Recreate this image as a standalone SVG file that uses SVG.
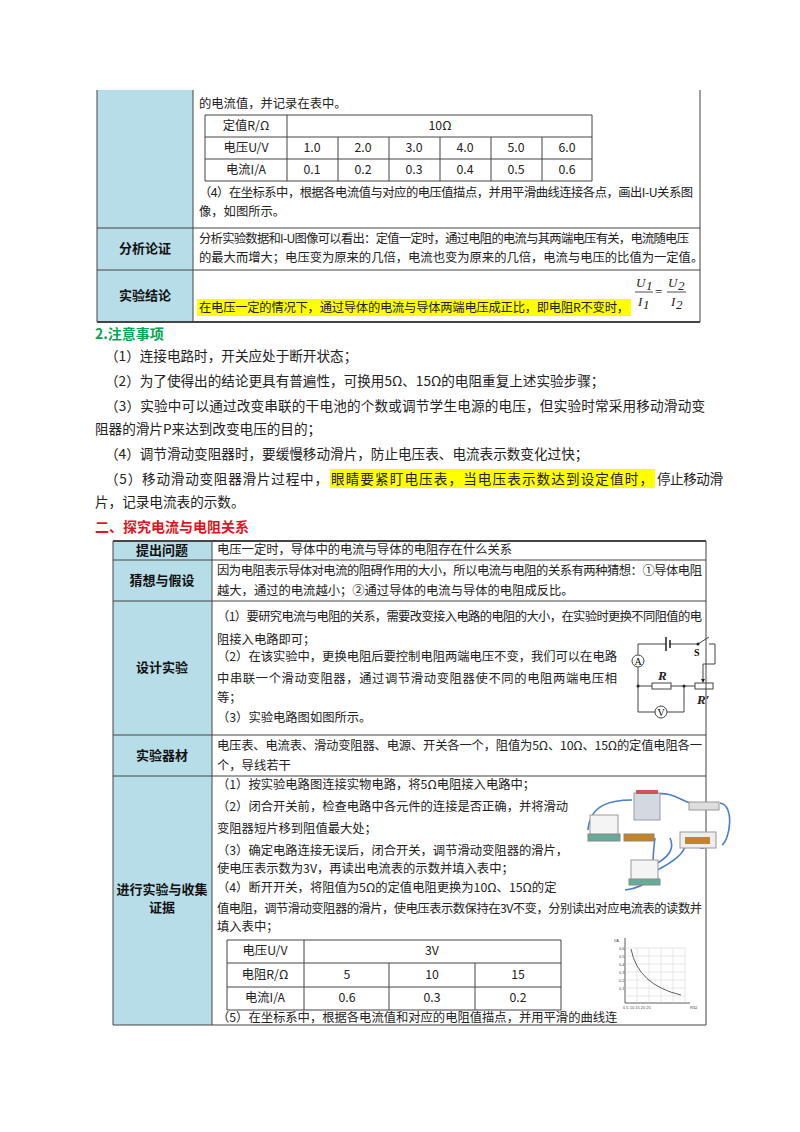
<svg xmlns="http://www.w3.org/2000/svg" width="800" height="1132" viewBox="0 0 800 1132">
<style>
.t{font-family:"Noto Sans CJK SC","Liberation Serif",serif;font-size:12.3px;fill:#222}
.n{font-family:"Noto Sans CJK SC","Liberation Serif",serif;font-size:13.6px;fill:#222}
.c{text-anchor:middle}
.b{font-weight:bold;font-size:13px;fill:#111}
.lab{fill:#b7dde8}
.ln{stroke:#444;stroke-width:1;fill:none}
.thk{stroke:#444;stroke-width:2;fill:none}
.m{font-family:"Liberation Serif",serif;font-style:italic;font-size:13px;fill:#222}
.w{stroke:#4a7fc8;stroke-width:1.6;fill:none}
</style>
<rect width="800" height="1132" fill="#fff"/>
<g id="table1">
<rect class="lab" x="97" y="90" width="96" height="232"/>
<path class="ln" d="M97 90V322M193 90V322M700 90V322M97 228H700M97 270H700"/>
<path class="thk" d="M97 322H700"/>
<text class="t" x="199" y="108">的电流值，并记录在表中。</text>
<g id="inner1">
<path class="ln" d="M205 115H592V181H205ZM205 137H592M205 159H592M287 115V181M338 137V181M389 137V181M440 137V181M491 137V181M542 137V181"/>
<g class="t c">
<text x="246" y="130">定值R/Ω</text><text x="440" y="130">10Ω</text>
<text x="246" y="152">电压U/V</text><text x="312" y="152">1.0</text><text x="363" y="152">2.0</text><text x="414" y="152">3.0</text><text x="465" y="152">4.0</text><text x="516" y="152">5.0</text><text x="567" y="152">6.0</text>
<text x="246" y="174">电流I/A</text><text x="312" y="174">0.1</text><text x="363" y="174">0.2</text><text x="414" y="174">0.3</text><text x="465" y="174">0.4</text><text x="516" y="174">0.5</text><text x="567" y="174">0.6</text>
</g>
</g>
<text class="t" x="199" y="197" textLength="494">（4）在坐标系中，根据各电流值与对应的电压值描点，并用平滑曲线连接各点，画出I-U关系图</text>
<text class="t" x="199" y="216">像，如图所示。</text>
<text class="t b c" x="145" y="253">分析论证</text>
<text class="t" x="199" y="243" textLength="490">分析实验数据和I-U图像可以看出：定值一定时，通过电阻的电流与其两端电压有关，电流随电压</text>
<text class="t" x="199" y="262">的最大而增大；电压变为原来的几倍，电流也变为原来的几倍，电流与电压的比值为一定值。</text>
<text class="t b c" x="145" y="300">实验结论</text>
<rect x="197" y="299" width="434" height="17" fill="#ffff00"/>
<text class="t" x="199" y="312" textLength="430">在电压一定的情况下，通过导体的电流与导体两端电压成正比，即电阻R不变时，</text>
<g id="formula">
<text class="m" x="636" y="287">U</text><text class="m" x="646" y="290" font-size="8">1</text>
<text class="m" x="638" y="306">I</text><text class="m" x="643" y="309" font-size="8">1</text>
<path d="M635 292H653M667 292H686" stroke="#222" stroke-width="0.8"/>
<text class="m" x="655" y="296" style="font-style:normal">=</text>
<text class="m" x="668" y="287">U</text><text class="m" x="678" y="290" font-size="8">2</text>
<text class="m" x="671" y="306">I</text><text class="m" x="676" y="309" font-size="8">2</text>
</g>
</g>
<g id="notes">
<text x="95" y="339" font-family="Noto Sans CJK SC,sans-serif" font-size="14" font-weight="bold" fill="#00a651">2.注意事项</text>
<text class="n" x="105" y="361">（1）连接电路时，开关应处于断开状态；</text>
<text class="n" x="105" y="386">（2）为了使得出的结论更具有普遍性，可换用5Ω、15Ω的电阻重复上述实验步骤；</text>
<text class="n" x="105" y="411" textLength="600">（3）实验中可以通过改变串联的干电池的个数或调节学生电源的电压，但实验时常采用移动滑动变</text>
<text class="n" x="95" y="434">阻器的滑片P来达到改变电压的目的；</text>
<text class="n" x="105" y="459">（4）调节滑动变阻器时，要缓慢移动滑片，防止电压表、电流表示数变化过快；</text>
<rect x="330" y="469" width="325" height="19" fill="#ffff00"/>
<text class="n" y="484"><tspan x="105" textLength="223">（5）移动滑动变阻器滑片过程中，</tspan><tspan x="331" textLength="322">眼睛要紧盯电压表，当电压表示数达到设定值时，</tspan><tspan x="657" textLength="66">停止移动滑</tspan></text>
<text class="n" x="95" y="507">片，记录电流表的示数。</text>
<text x="95" y="532" font-family="Noto Sans CJK SC,sans-serif" font-size="14" font-weight="bold" fill="#e0141e">二、探究电流与电阻关系</text>
</g>
<g id="table2">
<rect class="lab" x="113" y="541" width="99" height="484"/>
<path class="thk" d="M113 541H706"/>
<path class="ln" d="M113 541V1025M212 541V1025M706 541V1025M113 560H706M113 601H706M113 735H706M113 776H706M113 1025H706"/>
<text class="t b c" x="162" y="555">提出问题</text>
<text class="t" x="217" y="554">电压一定时，导体中的电流与导体的电阻存在什么关系</text>
<text class="t b c" x="162" y="585">猜想与假设</text>
<text class="t" x="217" y="575" textLength="485">因为电阻表示导体对电流的阻碍作用的大小，所以电流与电阻的关系有两种猜想：①导体电阻</text>
<text class="t" x="217" y="595">越大，通过的电流越小；②通过导体的电流与导体的电阻成反比。</text>
<text class="t b c" x="162" y="672">设计实验</text>
<text class="t" x="217" y="621" textLength="485">（1）要研究电流与电阻的关系，需要改变接入电路的电阻的大小，在实验时更换不同阻值的电</text>
<text class="t" x="217" y="644">阻接入电路即可；</text>
<text class="t" x="217" y="661" textLength="400">（2）在该实验中，更换电阻后要控制电阻两端电压不变，我们可以在电路</text>
<text class="t" x="217" y="683" textLength="400">中串联一个滑动变阻器，通过调节滑动变阻器使不同的电阻两端电压相</text>
<text class="t" x="217" y="702">等；</text>
<text class="t" x="217" y="722">（3）实验电路图如图所示。</text>
<g id="circuit">
<path class="ln" d="M666 644H638V655M638 667V686H652M671 686H695M638 686V712H655M667 712H684V686"/>
<path class="ln" d="M669 644H698M698 644L709 637M709 644H715V664H703V679"/>
<path d="M666 637V651M670 640V648" stroke="#222" stroke-width="1.5"/>
<circle cx="698" cy="644" r="1.5" fill="#222"/>
<circle cx="638" cy="661" r="6" class="ln"/><text x="638" y="665" font-family="Liberation Serif,serif" font-size="10" text-anchor="middle">A</text>
<circle cx="661" cy="712" r="6" class="ln"/><text x="661" y="716" font-family="Liberation Serif,serif" font-size="10" text-anchor="middle">V</text>
<rect x="652" y="683" width="19" height="6" class="ln"/>
<rect x="695" y="683" width="18" height="6" class="ln"/>
<path d="M701 679L703 683L705 679Z" fill="#222"/>
<circle cx="638" cy="686" r="1.5" fill="#222"/><circle cx="684" cy="686" r="1.5" fill="#222"/>
<text class="m" x="658" y="680" font-weight="bold">R</text>
<text class="m" x="697" y="704" font-weight="bold">R′</text>
<text x="694" y="656" font-family="Liberation Serif,serif" font-size="10" font-weight="bold">S</text>
</g>
<text class="t b c" x="162" y="760">实验器材</text>
<text class="t" x="217" y="750" textLength="485">电压表、电流表、滑动变阻器、电源、开关各一个，阻值为5Ω、10Ω、15Ω的定值电阻各一</text>
<text class="t" x="217" y="770">个，导线若干</text>
<text class="t b c" x="162" y="894">进行实验与收集</text>
<text class="t b c" x="162" y="912">证据</text>
<text class="t" x="217" y="789">（1）按实验电路图连接实物电路，将5Ω电阻接入电路中；</text>
<text class="t" x="217" y="811">（2）闭合开关前，检查电路中各元件的连接是否正确，并将滑动</text>
<text class="t" x="217" y="833">变阻器短片移到阻值最大处；</text>
<text class="t" x="217" y="855">（3）确定电路连接无误后，闭合开关，调节滑动变阻器的滑片，</text>
<text class="t" x="217" y="873">使电压表示数为3V，再读出电流表的示数并填入表中；</text>
<text class="t" x="217" y="892">（4）断开开关，将阻值为5Ω的定值电阻更换为10Ω、15Ω的定</text>
<text class="t" x="217" y="913" textLength="485">值电阻，调节滑动变阻器的滑片，使电压表示数保持在3V不变，分别读出对应电流表的读数并</text>
<text class="t" x="217" y="931">填入表中；</text>
<g id="inner2">
<path class="ln" d="M227 940H561V1010H227ZM227 963H561M227 987H561M304 940V1010M389 963V1010M475 963V1010"/>
<g class="t c">
<text x="265" y="955">电压U/V</text><text x="432" y="955">3V</text>
<text x="265" y="979">电阻R/Ω</text><text x="347" y="979">5</text><text x="432" y="979">10</text><text x="518" y="979">15</text>
<text x="265" y="1002">电流I/A</text><text x="347" y="1002">0.6</text><text x="432" y="1002">0.3</text><text x="518" y="1002">0.2</text>
</g>
</g>
<text class="t" x="217" y="1022">（5）在坐标系中，根据各电流值和对应的电阻值描点，并用平滑的曲线连</text>
<g id="photo">
<path class="w" d="M632 800C610 800 590 805 588 830M652 795C670 790 680 800 690 803M720 803C735 805 730 840 722 845M600 836H620M640 840H655M655 838C650 870 660 885 625 890M670 838C680 860 640 870 640 870M685 840C690 855 660 870 635 880M690 842C700 850 705 850 710 843"/>
<rect x="634" y="793" width="26" height="27" fill="#d4d8e0" stroke="#99a"/>
<rect x="636" y="790" width="22" height="4" fill="#c55"/>
<rect x="689" y="802" width="30" height="8" fill="#ddd" stroke="#999"/>
<rect x="590" y="815" width="28" height="22" fill="#f4f4f4" stroke="#999"/>
<rect x="588" y="834" width="32" height="7" fill="#6a9" stroke="#888"/>
<rect x="624" y="834" width="30" height="7" fill="#c8822a" stroke="#886"/>
<rect x="680" y="832" width="36" height="16" fill="#eee" stroke="#999"/>
<rect x="685" y="837" width="25" height="7" fill="#c8822a"/>
<rect x="631" y="860" width="27" height="20" fill="#f4f4f4" stroke="#999"/>
<rect x="629" y="879" width="31" height="6" fill="#6a9" stroke="#888"/>
</g>
<g id="graph" font-family="Liberation Sans,sans-serif" font-size="4" fill="#444">
<path d="M625 938V1003H690" stroke="#333" stroke-width="0.8" fill="none"/>
<path d="M625 948H685M625 956H685M625 964H685M625 972H685M625 980H685M625 988H685M625 996H685M637 948V1003M649 948V1003M661 948V1003M673 948V1003M685 948V1003" stroke="#ccc" stroke-width="0.5"/>
<path d="M631 949Q638 985 681 995" stroke="#333" stroke-width="0.8" fill="none"/>
<text x="614" y="942">I/A</text>
<text x="619" y="950">0.6</text><text x="619" y="958">0.5</text><text x="619" y="966">0.4</text><text x="619" y="974">0.3</text><text x="619" y="982">0.2</text><text x="619" y="990">0.1</text>
<text x="623" y="1009">0  5  10 15 20 25</text><text x="690" y="1009">R/Ω</text>
</g>
</g>
</svg>
